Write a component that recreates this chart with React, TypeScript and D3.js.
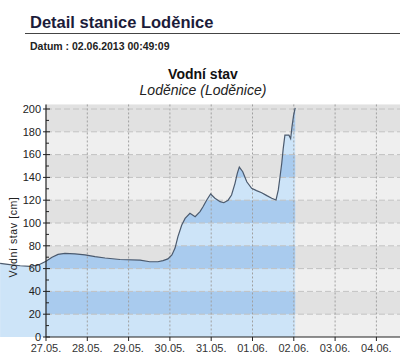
import React from "react";
import * as d3 from "d3";

const times = [
  "2013-05-25 21:20", "2013-05-26 03:00", "2013-05-26 09:00", "2013-05-26 14:40", "2013-05-26 19:20",
  "2013-05-27 00:00", "2013-05-27 03:30", "2013-05-27 07:00", "2013-05-27 11:00", "2013-05-27 16:50",
  "2013-05-27 22:40", "2013-05-28 04:30", "2013-05-28 10:20", "2013-05-28 19:00", "2013-05-29 06:40",
  "2013-05-29 12:20", "2013-05-29 17:00", "2013-05-29 20:00", "2013-05-29 22:50", "2013-05-30 01:10",
  "2013-05-30 03:00", "2013-05-30 04:40", "2013-05-30 06:50", "2013-05-30 08:50", "2013-05-30 11:40",
  "2013-05-30 14:40", "2013-05-30 17:30", "2013-05-30 19:10", "2013-05-30 21:20", "2013-05-30 23:40",
  "2013-05-31 02:10", "2013-05-31 05:10", "2013-05-31 07:20", "2013-05-31 09:50", "2013-05-31 11:50",
  "2013-05-31 13:50", "2013-05-31 15:10", "2013-05-31 16:20", "2013-05-31 18:20", "2013-05-31 20:40",
  "2013-05-31 23:30", "2013-06-01 02:20", "2013-06-01 05:20", "2013-06-01 08:20", "2013-06-01 11:10",
  "2013-06-01 13:40", "2013-06-01 15:00", "2013-06-01 16:00", "2013-06-01 17:00", "2013-06-01 17:50",
  "2013-06-01 18:50", "2013-06-01 21:10", "2013-06-01 22:10", "2013-06-01 23:00", "2013-06-01 23:50",
  "2013-06-02 00:49",
];
const levels = [
  64.5, 63.5, 62.5, 62, 63,
  66.5, 70, 72.5, 73.4, 73,
  72, 70.5, 69.3, 68, 67.5,
  66, 66, 67, 68.5, 72,
  78, 88, 98, 104, 108.5,
  105.5, 110, 114, 120, 125.4,
  121.7, 118.7, 117.8, 120, 124.6,
  134.8, 143.6, 149, 145, 136.2,
  130.4, 128.4, 126.6, 124, 121.7,
  120.2, 129, 140.6, 152.4, 165,
  177, 177, 174, 185, 194,
  201,
];
const dayTicks = ["27.05.", "28.05.", "29.05.", "30.05.", "31.05.", "01.06.", "02.06.", "03.06.", "04.06."];
const yTicks = [0, 20, 40, 60, 80, 100, 120, 140, 160, 180, 200];
const yMinor = [10, 30, 50, 70, 90, 110, 130, 150, 170, 190];

const parse = d3.timeParse("%Y-%m-%d %H:%M");

export default function App() {
  const W = 400, H = 360;
  const left = 46, right = 400, bottom = 337;
  const x = d3.scaleTime()
    .domain([parse("2013-05-27 00:00")!, parse("2013-06-04 00:00")!])
    .range([46, 376.4]);
  const y = d3.scaleLinear().domain([0, 200]).range([337, 109]);
  const top = y(204);
  const data = times.map((t, i) => ({ t: parse(t)!, v: levels[i] }));
  const area = d3.area<{ t: Date; v: number }>()
    .x(d => x(d.t)).y0(y(0)).y1(d => y(d.v));
  const line = d3.line<{ t: Date; v: number }>()
    .x(d => x(d.t)).y(d => y(d.v));
  const areaPath = area(data) || "";
  const linePath = line(data) || "";
  const dayDates = d3.timeDay.range(parse("2013-05-27 00:00")!, parse("2013-06-04 01:00")!);
  const font = "Arial, 'Liberation Sans', Helvetica, sans-serif";

  // bands: index i covers [20i, 20i+20]
  const bands = d3.range(10).map(i => ({
    lo: i * 20,
    hi: i === 9 ? 204 : i * 20 + 20,
    dark: i % 2 === 1,
  }));

  return (
    <svg width={W} height={H} style={{ position: "absolute", left: 0, top: 0, background: "#fff" }}
      fontFamily={font}>
      <defs>
        <clipPath id="areaClip">
          <path d={areaPath} />
        </clipPath>
      </defs>
      {/* header */}
      <text x={30} y={28} fontSize={16.5} fontWeight="bold" fill="#1c1c3a">Detail stanice Loděnice</text>
      <line x1={25} x2={400} y1={33.5} y2={33.5} stroke="#444" strokeWidth={1} />
      <text x={30} y={50} fontSize={10.5} fontWeight="bold" fill="#222">Datum : 02.06.2013 00:49:09</text>
      <text x={203} y={79} fontSize={14} fontWeight="bold" fill="#111" textAnchor="middle">Vodní stav</text>
      <text x={203} y={95} fontSize={14} fontStyle="italic" fill="#222" textAnchor="middle">Loděnice (Loděnice)</text>

      {/* background bands */}
      {bands.map((b, i) => (
        <rect key={"bg" + i} x={left} width={right - left} y={y(b.hi)} height={y(b.lo) - y(b.hi)}
          fill={b.dark ? "#e1e1e1" : "#efefef"} />
      ))}

      {/* area */}
      <path d={areaPath} fill="#cde4f8" />
      <g clipPath="url(#areaClip)">
        {bands.filter(b => b.dark).map((b, i) => (
          <rect key={"ab" + i} x={left} width={right - left} y={y(b.hi)} height={y(b.lo) - y(b.hi)}
            fill="#a9cbee" />
        ))}
      </g>

      {/* grid */}
      {yTicks.filter(v => v > 0).map(v => (
        <line key={"hg" + v} x1={left} x2={right} y1={y(v)} y2={y(v)} stroke="#c2c2c2"
          strokeWidth={1} strokeDasharray="6,3" />
      ))}
      {dayDates.slice(1).map((d, i) => (
        <line key={"vg" + i} x1={x(d)} x2={x(d)} y1={top} y2={bottom} stroke="#a0a0a0"
          strokeWidth={1} strokeDasharray="2,2" />
      ))}

      {/* data line */}
      <path d={linePath} fill="none" stroke="#4b5a6e" strokeWidth={1.2} />

      {/* axes */}
      <line x1={left} x2={left} y1={top} y2={bottom} stroke="#222" strokeWidth={1.2} />
      <line x1={left} x2={right} y1={bottom} y2={bottom} stroke="#222" strokeWidth={1.2} />
      {yTicks.map(v => (
        <g key={"yt" + v}>
          <line x1={left - 3} x2={left + 4} y1={y(v)} y2={y(v)} stroke="#222" />
          <text x={41} y={y(v)} dy="0.35em" fontSize={11} textAnchor="end" fill="#222">{v}</text>
        </g>
      ))}
      {yMinor.map(v => (
        <line key={"ym" + v} x1={left} x2={left + 3} y1={y(v)} y2={y(v)} stroke="#222" />
      ))}
      {dayDates.map((d, i) => (
        <g key={"xt" + i}>
          <line x1={x(d)} x2={x(d)} y1={bottom} y2={bottom + 4} stroke="#222" />
          <text x={x(d)} y={352} fontSize={11} textAnchor="middle" fill="#333">{dayTicks[i]}</text>
        </g>
      ))}
      <text transform={`translate(17,${237}) rotate(-90)`} fontSize={10.5} textAnchor="middle"
        fill="#222" letterSpacing={0.6}>Vodní stav [cm]</text>
    </svg>
  );
}
